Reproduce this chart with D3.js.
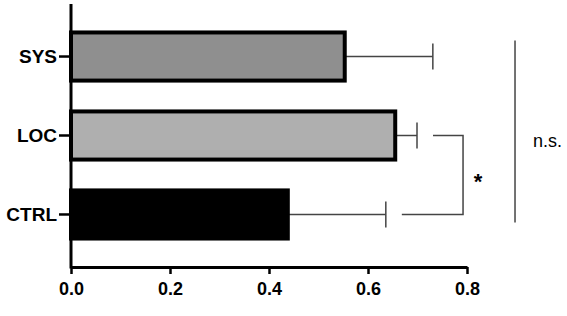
<!DOCTYPE html>
<html>
<head>
<meta charset="utf-8">
<script src="https://cdn.jsdelivr.net/npm/d3@7"></script>
<style>
  body { margin: 0; background: #fff; }
  svg { display: block; font-family: "Liberation Sans", Arial, sans-serif; }
</style>
</head>
<body>
<svg id="chart" width="567" height="316"></svg>
<script>
// data
let groups = ["SYS", "LOC", "CTRL"];
let means = [0.553, 0.655, 0.438];
let errors = [0.178, 0.044, 0.198];
let fills = ["#8f8f8f", "#afafaf", "#000000"];
let xTicks = [0.0, 0.2, 0.4, 0.6, 0.8];

let svg = d3.select("#chart"),
    margin = {top: 4, left: 71},
    axisBottomY = 267;

let x = d3.scaleLinear()
    .domain([0, 0.8])
    .range([margin.left, 467]);

let y = d3.scaleBand()
    .domain(groups)
    .range([margin.top, axisBottomY])
    .paddingInner(0.34)
    .paddingOuter(0.335);

let data = groups.map((g, i) => ({g: g, mean: means[i], err: errors[i], fill: fills[i]}));

// error bars (drawn first so bars cover the left half)
let eb = svg.append("g")
    .attr("stroke", "#444")
    .attr("stroke-width", 1.5)
    .attr("fill", "none");

data.forEach(d => {
    let cy = y(d.g) + y.bandwidth() / 2;
    eb.append("line")
        .attr("x1", x(d.mean)).attr("x2", x(d.mean + d.err))
        .attr("y1", cy).attr("y2", cy);
    eb.append("line")
        .attr("x1", x(d.mean + d.err)).attr("x2", x(d.mean + d.err))
        .attr("y1", cy - 13).attr("y2", cy + 13);
});

// bars
svg.append("g")
    .selectAll("rect")
    .data(data)
    .enter().append("rect")
    .attr("x", x(0))
    .attr("y", d => y(d.g) + 2)
    .attr("width", d => x(d.mean) - x(0))
    .attr("height", y.bandwidth() - 4)
    .attr("fill", d => d.fill)
    .attr("stroke", "#000")
    .attr("stroke-width", 4);

// axes
let yAxis = svg.append("g")
    .attr("transform", "translate(" + x(0) + ",0)")
    .call(d3.axisLeft(y).tickSize(12).tickPadding(2).tickSizeOuter(0));
yAxis.select(".domain").attr("stroke-width", 3);
yAxis.selectAll(".tick line").attr("stroke-width", 2.5);
yAxis.selectAll(".tick text")
    .attr("font-size", 19)
    .attr("font-weight", "bold")
    .attr("fill", "#000");

let xAxis = svg.append("g")
    .attr("transform", "translate(0," + axisBottomY + ")")
    .call(d3.axisBottom(x).tickValues(xTicks).tickFormat(d3.format(".1f")).tickSize(7).tickPadding(8).tickSizeOuter(0));
xAxis.select(".domain").attr("stroke-width", 3);
xAxis.selectAll(".tick line").attr("stroke-width", 2.5);
xAxis.selectAll(".tick text")
    .attr("font-size", 18)
    .attr("font-weight", "bold")
    .attr("fill", "#000");

// the axis line runs to the top of the plot
yAxis.select(".domain").attr("d", "M0," + margin.top + "V" + (axisBottomY + 1.5));

// significance: LOC vs CTRL
let sig = svg.append("g")
    .attr("stroke", "#444")
    .attr("stroke-width", 1.5)
    .attr("fill", "none");

let locY = y("LOC") + y.bandwidth() / 2,
    ctrlY = y("CTRL") + y.bandwidth() / 2,
    sysY = y("SYS") + y.bandwidth() / 2,
    bx = x(0.792);

sig.append("path")
    .attr("d", "M" + (x(means[1] + errors[1]) + 16) + "," + locY +
        "H" + bx + "V" + ctrlY +
        "H" + (x(means[2] + errors[2]) + 16));

svg.append("text")
    .attr("x", bx + 15)
    .attr("y", (locY + ctrlY) / 2 + 14)
    .attr("text-anchor", "middle")
    .attr("font-size", 22)
    .attr("font-weight", "bold")
    .text("*");

// n.s.: SYS vs rest
let nx = x(0.897);
sig.append("line")
    .attr("x1", nx).attr("x2", nx)
    .attr("y1", sysY - 16).attr("y2", ctrlY + 8);

svg.append("text")
    .attr("x", nx + 18)
    .attr("y", 147)
    .attr("font-size", 18)
    .attr("fill", "#000")
    .text("n.s.");
</script>
</body>
</html>
